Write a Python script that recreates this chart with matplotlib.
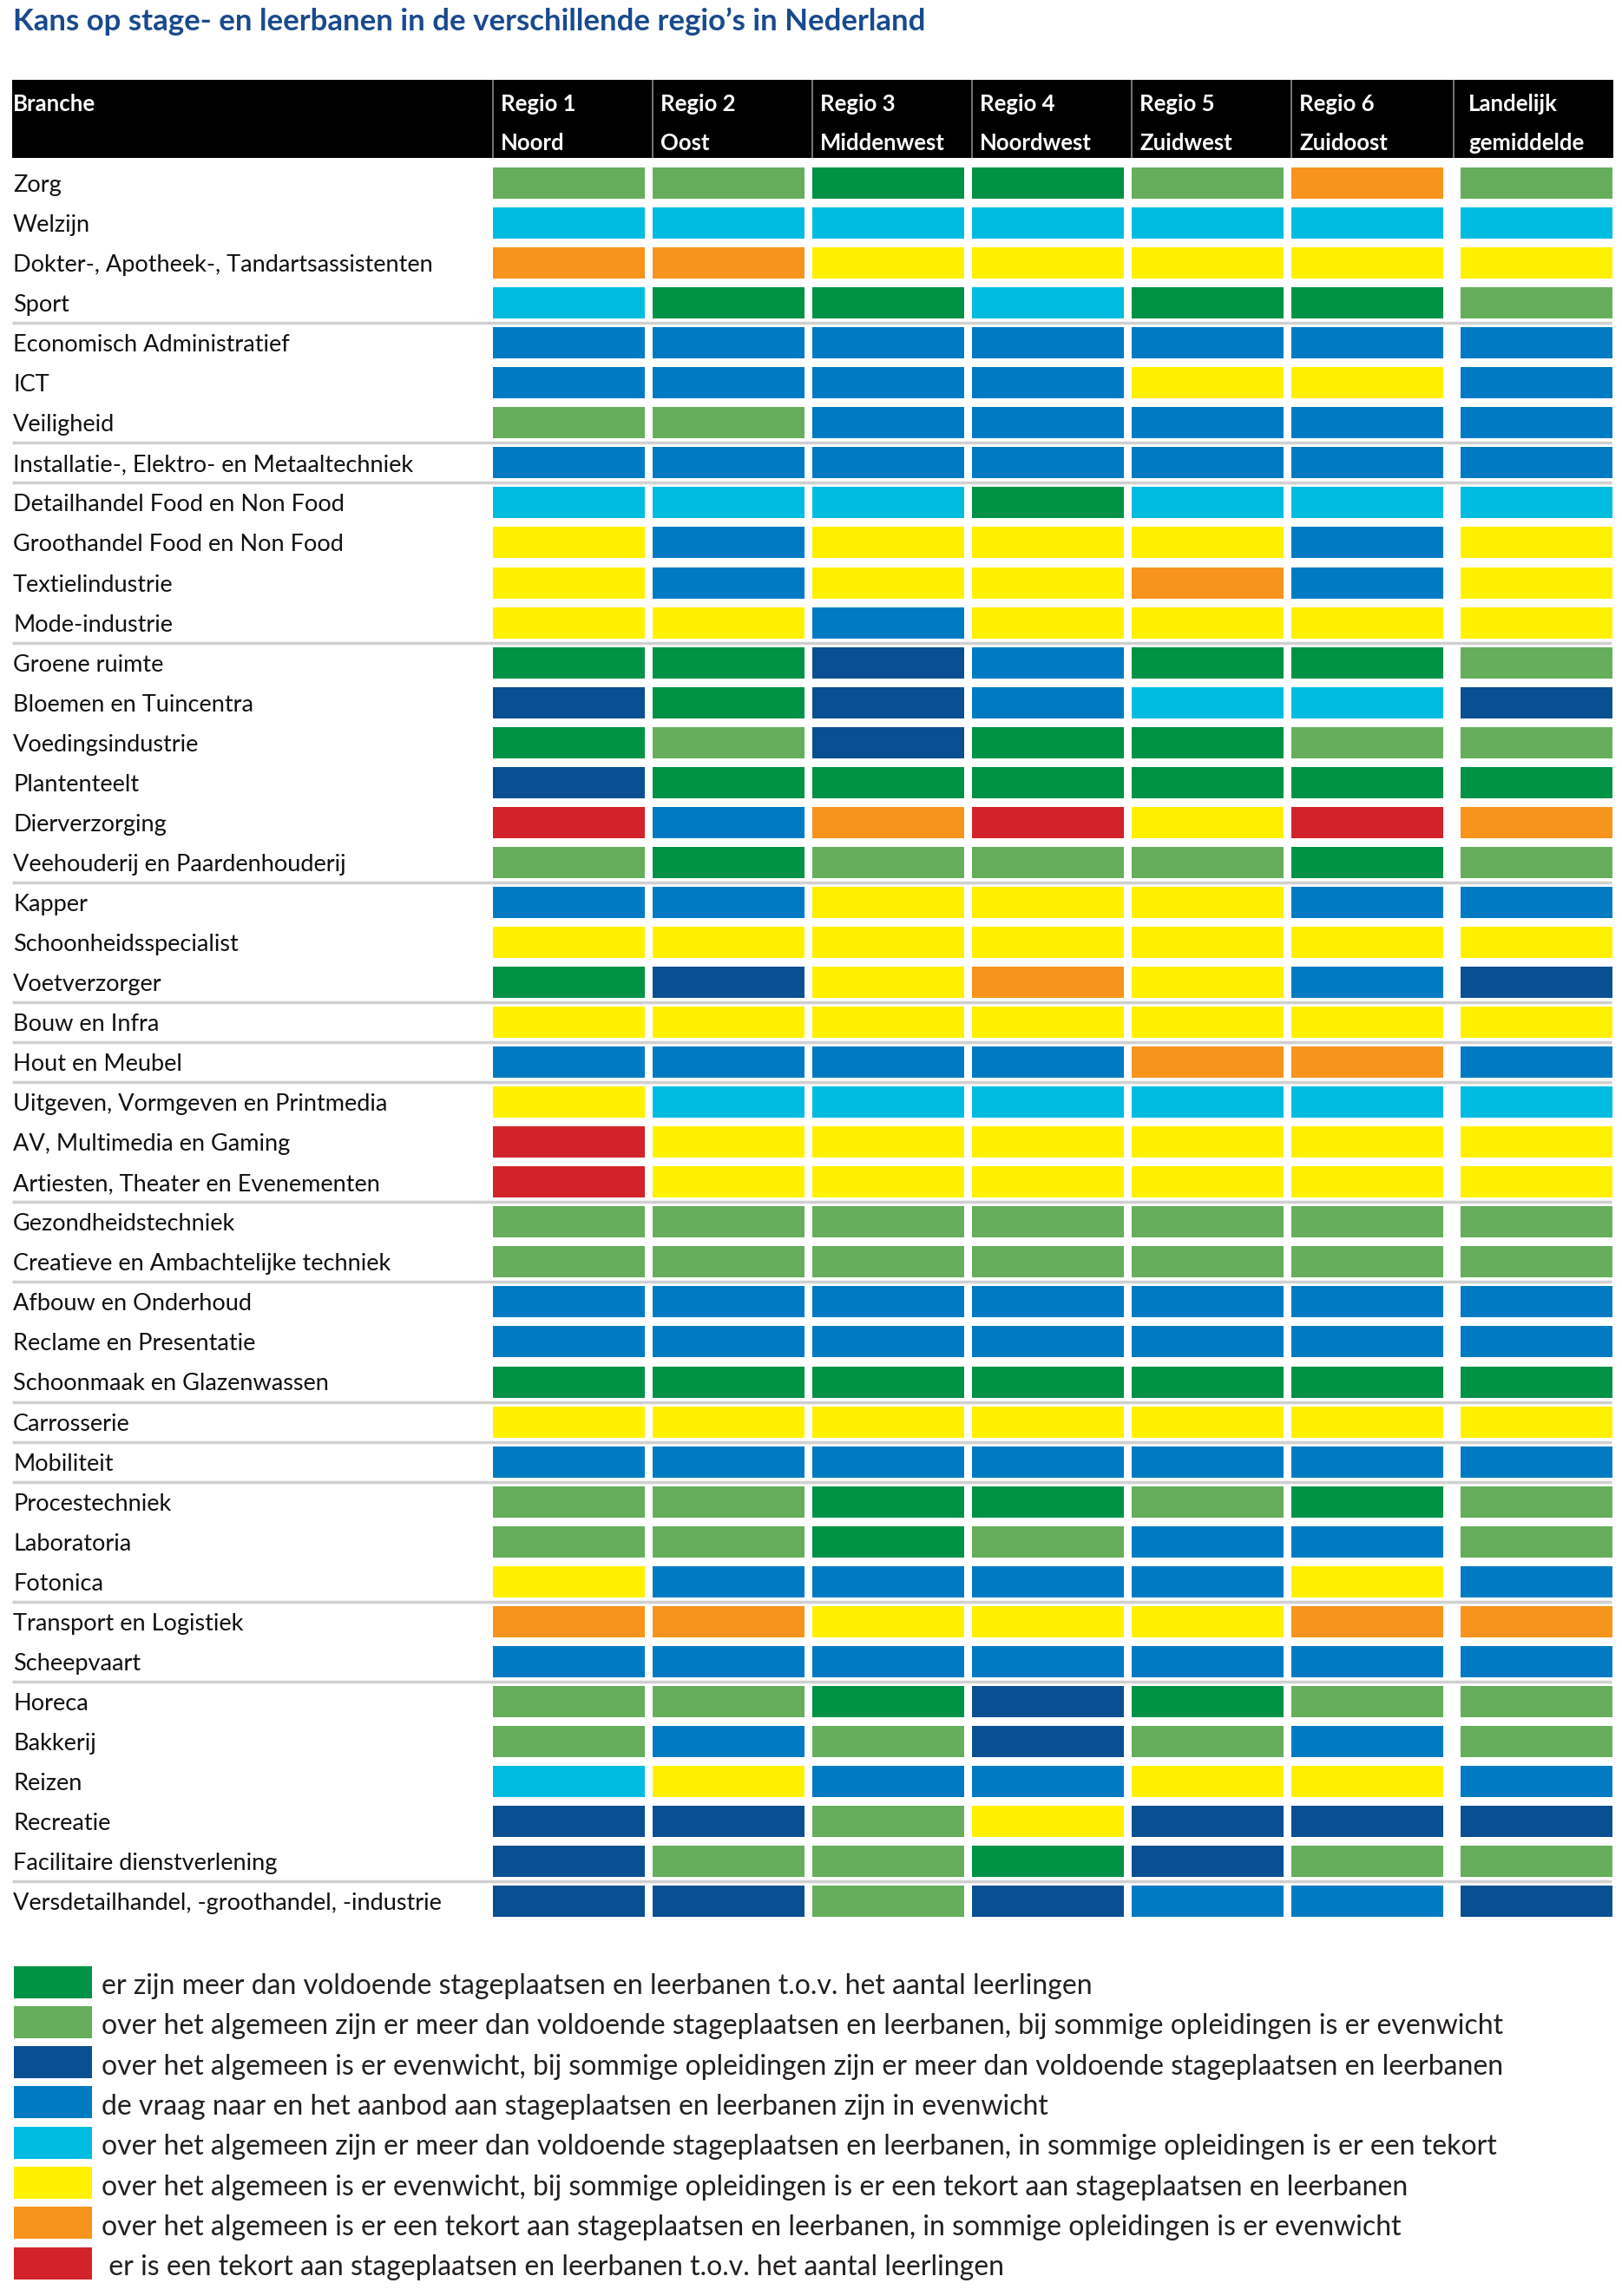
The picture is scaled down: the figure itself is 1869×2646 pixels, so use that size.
import numpy as np
import matplotlib
matplotlib.use("Agg")
import matplotlib.pyplot as plt
from matplotlib.patches import Rectangle

# ---- data ----
title = "Kans op stage- en leerbanen in de verschillende regio\u2019s in Nederland"
header_top = ["Regio 1", "Regio 2", "Regio 3", "Regio 4", "Regio 5", "Regio 6", "Landelijk"]
header_bottom = ["Noord", "Oost", "Middenwest", "Noordwest", "Zuidwest", "Zuidoost", "gemiddelde"]

branches = [
    "Zorg", "Welzijn", "Dokter-, Apotheek-, Tandartsassistenten", "Sport",
    "Economisch Administratief", "ICT", "Veiligheid",
    "Installatie-, Elektro- en Metaaltechniek",
    "Detailhandel Food en Non Food", "Groothandel Food en Non Food", "Textielindustrie", "Mode-industrie",
    "Groene ruimte", "Bloemen en Tuincentra", "Voedingsindustrie", "Plantenteelt", "Dierverzorging",
    "Veehouderij en Paardenhouderij",
    "Kapper", "Schoonheidsspecialist", "Voetverzorger",
    "Bouw en Infra",
    "Hout en Meubel",
    "Uitgeven, Vormgeven en Printmedia", "AV, Multimedia en Gaming", "Artiesten, Theater en Evenementen",
    "Gezondheidstechniek", "Creatieve en Ambachtelijke techniek",
    "Afbouw en Onderhoud", "Reclame en Presentatie", "Schoonmaak en Glazenwassen",
    "Carrosserie",
    "Mobiliteit",
    "Procestechniek", "Laboratoria", "Fotonica",
    "Transport en Logistiek", "Scheepvaart",
    "Horeca", "Bakkerij", "Reizen", "Recreatie", "Facilitaire dienstverlening",
    "Versdetailhandel, -groothandel, -industrie",
]

# one letter per column (Regio 1..6, Landelijk)
codes = [
    "LLGGLOL", "CCCCCCC", "OOYYYYY", "CGGCGGL",
    "BBBBBBB", "BBBBYYB", "LLBBBBB",
    "BBBBBBB",
    "CCCGCCC", "YBYYYBY", "YBYYOBY", "YYBYYYY",
    "GGDBGGL", "DGDBCCD", "GLDGGLL", "DGGGGGG", "RBORYRO", "LGLLLGL",
    "BBYYYBB", "YYYYYYY", "GDYOYBD",
    "YYYYYYY",
    "BBBBOOB",
    "YCCCCCC", "RYYYYYY", "RYYYYYY",
    "LLLLLLL", "LLLLLLL",
    "BBBBBBB", "BBBBBBB", "GGGGGGG",
    "YYYYYYY",
    "BBBBBBB",
    "LLGGLGL", "LLGLBBL", "YBBBBYB",
    "OOYYYOO", "BBBBBBB",
    "LLGDGLL", "LBLDLBL", "CYBBYYB", "DDLYDDD", "DLLGDLL",
    "DDLDBBD",
]

# last branch of each group (a grey line is drawn under it)
group_ends = ["Sport", "Veiligheid", "Installatie-, Elektro- en Metaaltechniek", "Mode-industrie",
              "Veehouderij en Paardenhouderij", "Voetverzorger", "Bouw en Infra", "Hout en Meubel",
              "Artiesten, Theater en Evenementen", "Creatieve en Ambachtelijke techniek",
              "Schoonmaak en Glazenwassen", "Carrosserie", "Mobiliteit", "Fotonica", "Scheepvaart",
              "Facilitaire dienstverlening"]

legend_codes = ["G", "L", "D", "B", "C", "Y", "O", "R"]
legend_labels = [
    "er zijn meer dan voldoende stageplaatsen en leerbanen t.o.v. het aantal leerlingen",
    "over het algemeen zijn er meer dan voldoende stageplaatsen en leerbanen, bij sommige opleidingen is er evenwicht",
    "over het algemeen is er evenwicht, bij sommige opleidingen zijn er meer dan voldoende stageplaatsen en leerbanen",
    "de vraag naar en het aanbod aan stageplaatsen en leerbanen zijn in evenwicht",
    "over het algemeen zijn er meer dan voldoende stageplaatsen en leerbanen, in sommige opleidingen is er een tekort",
    "over het algemeen is er evenwicht, bij sommige opleidingen is er een tekort aan stageplaatsen en leerbanen",
    "over het algemeen is er een tekort aan stageplaatsen en leerbanen, in sommige opleidingen is er evenwicht",
    " er is een tekort aan stageplaatsen en leerbanen t.o.v. het aantal leerlingen",
]

palette = {
    "G": "#009245", "L": "#66AE5C", "D": "#0B4F93", "B": "#007BC3",
    "C": "#00BCE1", "Y": "#FFF100", "O": "#F7941E", "R": "#D2232A",
}

# ---- layout (pixels) ----
W, H = 1869, 2646
FONT = ["Lato", "DejaVu Sans"]
fig = plt.figure(figsize=(W / 100, H / 100), dpi=100)
ax = fig.add_axes([0, 0, 1, 1])
ax.set_xlim(0, W)
ax.set_ylim(H, 0)
ax.axis("off")

n = len(branches)
pitch = 46.05
ys = 211 + pitch * np.arange(n)
col_left = 568 + 184 * np.arange(7) + np.array([0, 0, 0, 0, 0, 0, 11])
cell_w, cell_h = 175, 36

# title
ax.text(15, 35, title, fontsize=25, fontweight="bold", color="#1A4A8D",
        family=FONT, va="baseline", ha="left")

# header band
ax.add_patch(Rectangle((14, 92), 1845, 90, facecolor="black", edgecolor="none"))
div_x = np.append(col_left[:6], col_left[6] - 8)
ax.vlines(div_x, 92, 182, color="#8a8a8a", lw=1.2)
ax.text(15, 128, "Branche", color="white", fontsize=18.5, fontweight="bold",
        family=FONT, va="baseline")
for j in range(7):
    x = col_left[j] + 9
    ax.text(x, 128, header_top[j], color="white", fontsize=18.5, fontweight="bold",
            family=FONT, va="baseline")
    ax.text(x, 173, header_bottom[j], color="white", fontsize=18.5, fontweight="bold",
            family=FONT, va="baseline")

# cells
for j in range(7):
    ax.barh(ys, cell_w, left=col_left[j], height=cell_h,
            color=[palette[c[j]] for c in codes], edgecolor="none")

# row labels
for y, name in zip(ys, branches):
    ax.text(15, y + 10, name, fontsize=19.5, color="#111111", family=FONT, va="baseline")

# group separators
sep_idx = [branches.index(b) for b in group_ends]
ax.hlines(ys[sep_idx] + pitch / 2, 14, 1857, color="#d0d0d0", lw=2.5)

# legend
ly = 2284 + 46.3 * np.arange(len(legend_codes))
ax.barh(ly, 90, left=16, height=37, color=[palette[c] for c in legend_codes], edgecolor="none")
for y, lab in zip(ly, legend_labels):
    ax.text(117, y + 14, lab, fontsize=23, color="#231F20", family=FONT, va="baseline")

fig.savefig("out.png", dpi=100)
